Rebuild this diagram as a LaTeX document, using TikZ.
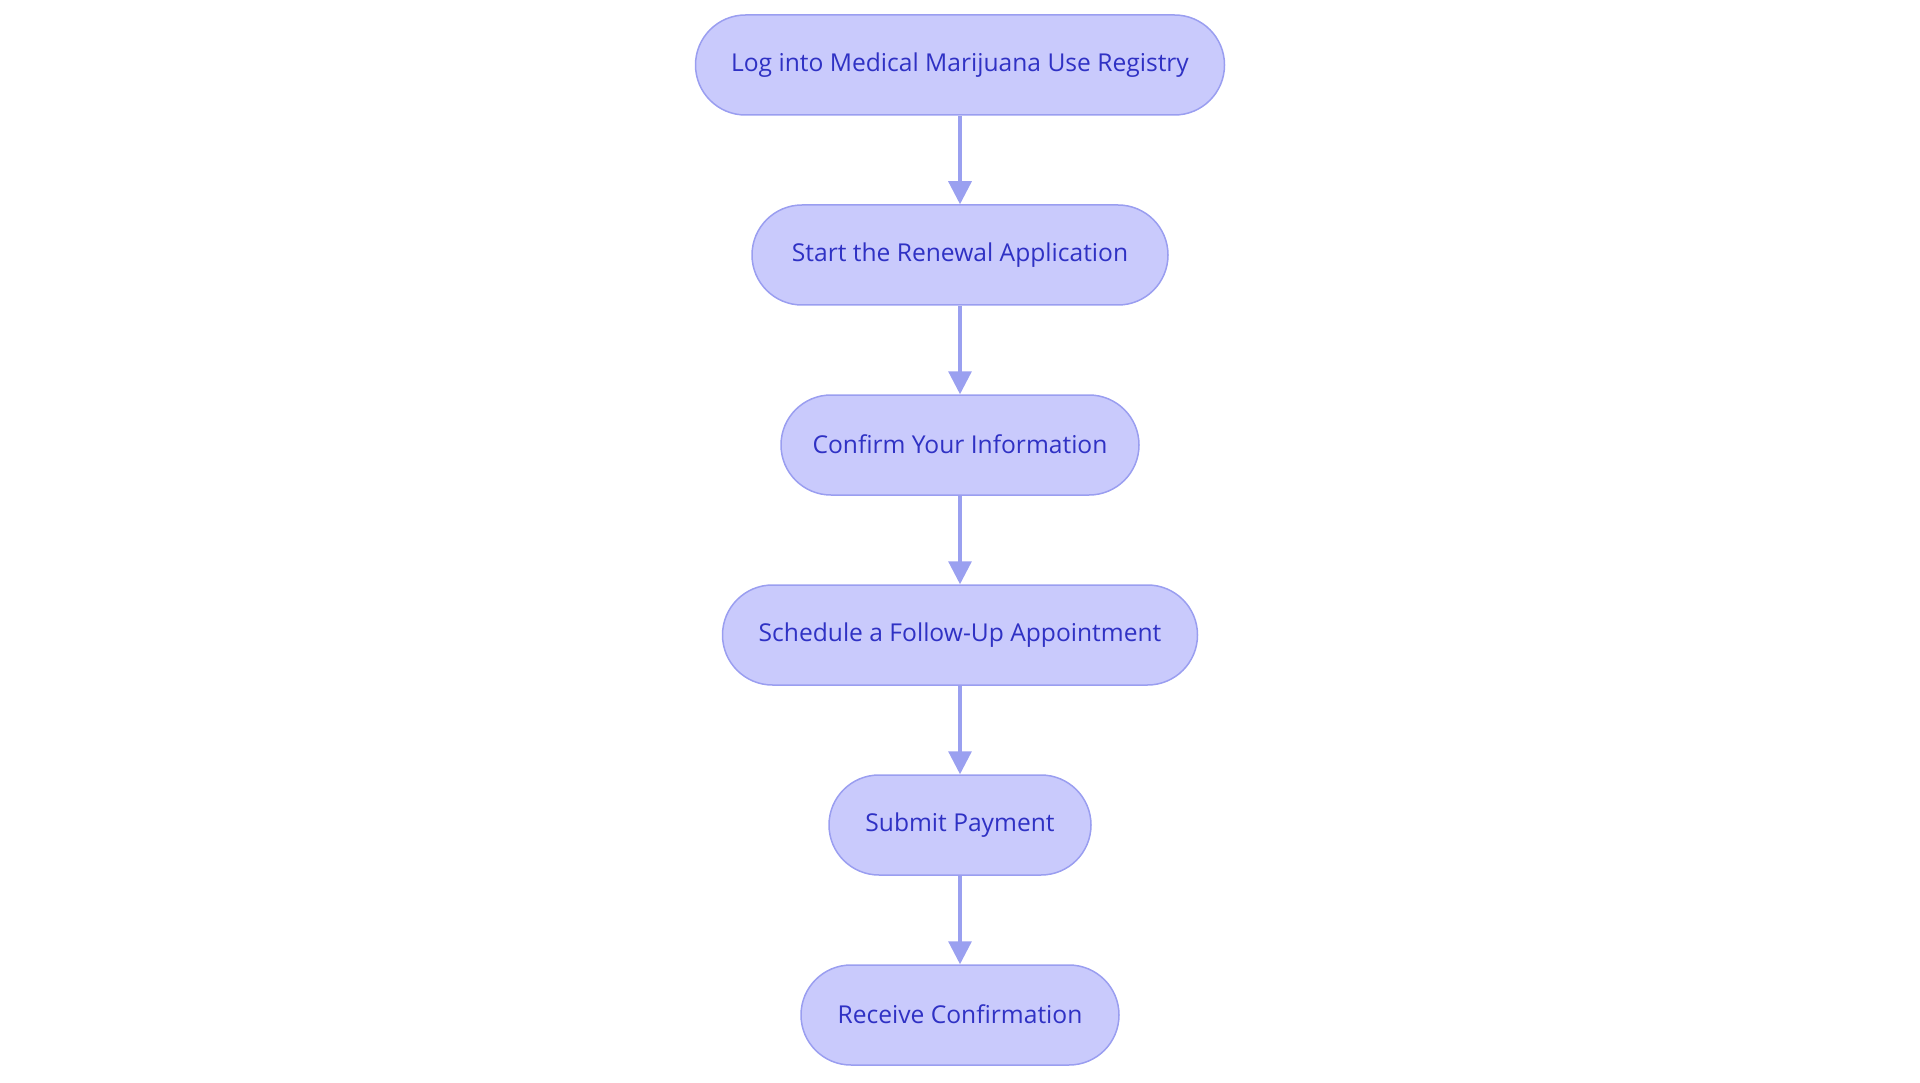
\documentclass[tikz,border=0pt]{standalone}
\usepackage{fontspec}
\setmainfont{Open Sans}
\usetikzlibrary{arrows.meta}
\definecolor{nodefill}{HTML}{C9CAFC}
\definecolor{nodedraw}{HTML}{9A9EF0}
\definecolor{nodetext}{HTML}{2F31C4}
\definecolor{arrowcol}{HTML}{9AA0F0}
\begin{document}
\begin{tikzpicture}[x=1pt,y=-1pt,
  stepbox/.style={draw=nodedraw, line width=1.5pt, fill=nodefill, rounded corners=50pt,
    minimum height=100pt, inner sep=0pt, text=nodetext,
    font=\fontsize{24.6}{28}\selectfont},
  flow/.style={draw=arrowcol, line width=3.2pt, -{Triangle[length=23pt,width=23pt]}}]
\useasboundingbox (0,0) rectangle (1920,1083);
\node[stepbox, minimum width=529pt] (n1) at (960,65) {\raisebox{1pt}{Log into Medical Marijuana Use Registry}};
\node[stepbox, minimum width=416pt] (n2) at (960,255) {\raisebox{1pt}{Start the Renewal Application}};
\node[stepbox, minimum width=358pt] (n3) at (960,445) {\raisebox{1pt}{Confirm Your Information}};
\node[stepbox, minimum width=475pt] (n4) at (960,635) {\raisebox{1pt}{Schedule a Follow-Up Appointment}};
\node[stepbox, minimum width=262pt] (n5) at (960,825) {\raisebox{1pt}{Submit Payment}};
\node[stepbox, minimum width=318pt] (n6) at (960,1015) {\raisebox{1pt}{Receive Confirmation}};
\draw[flow] (n1) -- (n2);
\draw[flow] (n2) -- (n3);
\draw[flow] (n3) -- (n4);
\draw[flow] (n4) -- (n5);
\draw[flow] (n5) -- (n6);
\end{tikzpicture}
\end{document}
